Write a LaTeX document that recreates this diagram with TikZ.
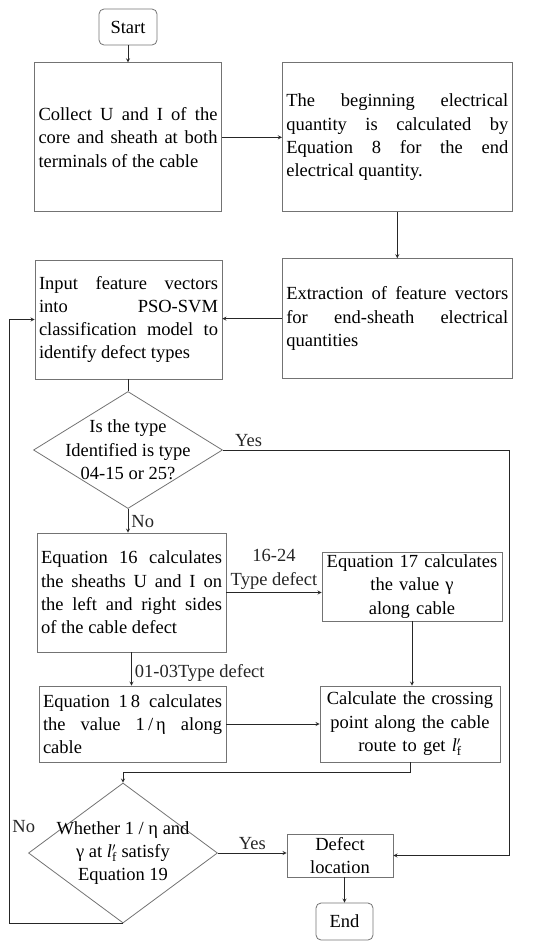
\documentclass[tikz,border=0pt]{standalone}
\usepackage{fontspec}
\setmainfont{Liberation Serif}
\usetikzlibrary{positioning, arrows, shapes.geometric}
\hyphenpenalty=10000
\exhyphenpenalty=10000
\tolerance=10000
\newcommand{\lfp}{\textit{l}$^{\prime}_{\mathrm{f}}$}
\tikzset{
  >=stealth,
  every node/.style={font=\fontsize{18.5}{23.3}\selectfont},
  box/.style={draw=black!55, line width=0.8pt, inner sep=4pt, align=justify},
  cbox/.style={draw=black!55, line width=0.8pt, inner sep=2pt, align=center},
  term/.style={cbox, rounded corners=5pt},
  decision/.style={diamond, draw=black!55, line width=0.8pt, inner sep=0pt},
  line/.style={black!85, line width=0.8pt},
  lbl/.style={inner sep=3pt},
}

\begin{document}
\begin{tikzpicture}[x=1pt, y=-1pt]
      \useasboundingbox (0,0) rectangle (550,948);

      \node[term, minimum width=58pt, minimum height=36pt] (start) at (128,27) {Start};
      \node[box, text width=179pt, minimum height=149pt, below=17pt of start] (collect)
            {Collect U and I of the\linebreak core and sheath at both\linebreak terminals of the cable};
      \node[box, text width=222pt, minimum height=149pt, right=60pt of collect] (begin)
            {The beginning electrical\linebreak quantity is calculated by\linebreak Equation 8 for the end\linebreak electrical quantity.};
      \node[box, text width=222pt, minimum height=120pt, below=46pt of begin] (extract)
            {Extraction of feature vectors\linebreak for end-sheath electrical\linebreak quantities};
      \node[box, text width=179pt, minimum height=119pt] (input) at (128.5,319.5)
            {Input feature vectors\linebreak into PSO-SVM\linebreak classification model to\linebreak identify defect types};
      \node[decision, minimum width=189pt, minimum height=117pt] (dec1) at (128,450) {};
      \node[align=center] (dec1txt) at (dec1) {Is the type\\ Identified is type\\ 04-15 or 25?};
      \node[box, text width=181pt, minimum height=119pt] (eq16) at (131.5,592.5)
            {Equation 16 calculates\linebreak the sheaths U and I on\linebreak the left and right sides\linebreak of the cable defect};
      \node[cbox, text width=176pt, minimum height=69pt] (eq17) at (412,586.5)
            {Equation 17 calculates\\ the value γ\\ along cable};
      \node[box, text width=179pt, minimum height=76pt] (eq18) at (132.5,724)
            {Equation 1\,8 calculates\linebreak the value 1\,/\,η along\linebreak cable};
      \node[cbox, text width=176pt, minimum height=76pt] (calc) at (410,724)
            {Calculate the crossing\\ point along the cable\\ route to get \lfp};
      \node[decision, minimum width=189pt, minimum height=140pt] (dec2) at (123,853) {};
      \node[align=center] (dec2txt) at (dec2) {Whether 1 / η and\\ γ at \lfp{} satisfy\\ Equation 19};
      \node[cbox, minimum width=106pt, minimum height=43pt] (defect) at (340,855.5) {Defect\\ location};
      \node[term, minimum width=57pt, minimum height=37pt] (stop) at (344.5,921.5) {End};

      \coordinate (yesline) at (509,450);
      \coordinate (back)    at (9,923);
      \coordinate (merge)   at (300,772);

      \draw[line, ->] (start) -- (collect);
      \draw[line, ->] (collect) -- (begin);
      \draw[line, ->] (begin) -- (extract);
      \draw[line, ->] (extract.west) -- (extract.west -| input.east);
      \draw[line]     (input.south) -- (input.south |- dec1.north);
      \draw[line, ->] (dec1.south) -- node[lbl, right, pos=0.55] {No} (dec1.south |- eq16.north);
      \draw[line, ->] (dec1.east) -- node[lbl, above, pos=0.09] {Yes} (dec1.east -| yesline) |- (defect.east);
      \draw[line, ->] (eq16.east) -- node[lbl, above, align=center] {16-24\\ Type defect} (eq16.east -| eq17.west);
      \draw[line, ->] (eq16.south) -- node[lbl, right, pos=0.62] {01-03Type defect} (eq16.south |- eq18.north);
      \draw[line, ->] (eq17.south) -- (eq17.south |- calc.north);
      \draw[line, ->] (eq18.east) -- (calc.west);
      \draw[line, ->] (calc.south) |- (merge) -| (dec2.north);
      \draw[line, ->] (dec2.east) -- node[lbl, above] {Yes} (dec2.east -| defect.west);
      \draw[line, ->] (dec2.south) -- (dec2.south -| back) |- node[lbl, right, pos=0.08] {No} (input.west);
      \draw[line, ->] (stop.north |- defect.south) -- (stop.north);
\end{tikzpicture}
\end{document}
